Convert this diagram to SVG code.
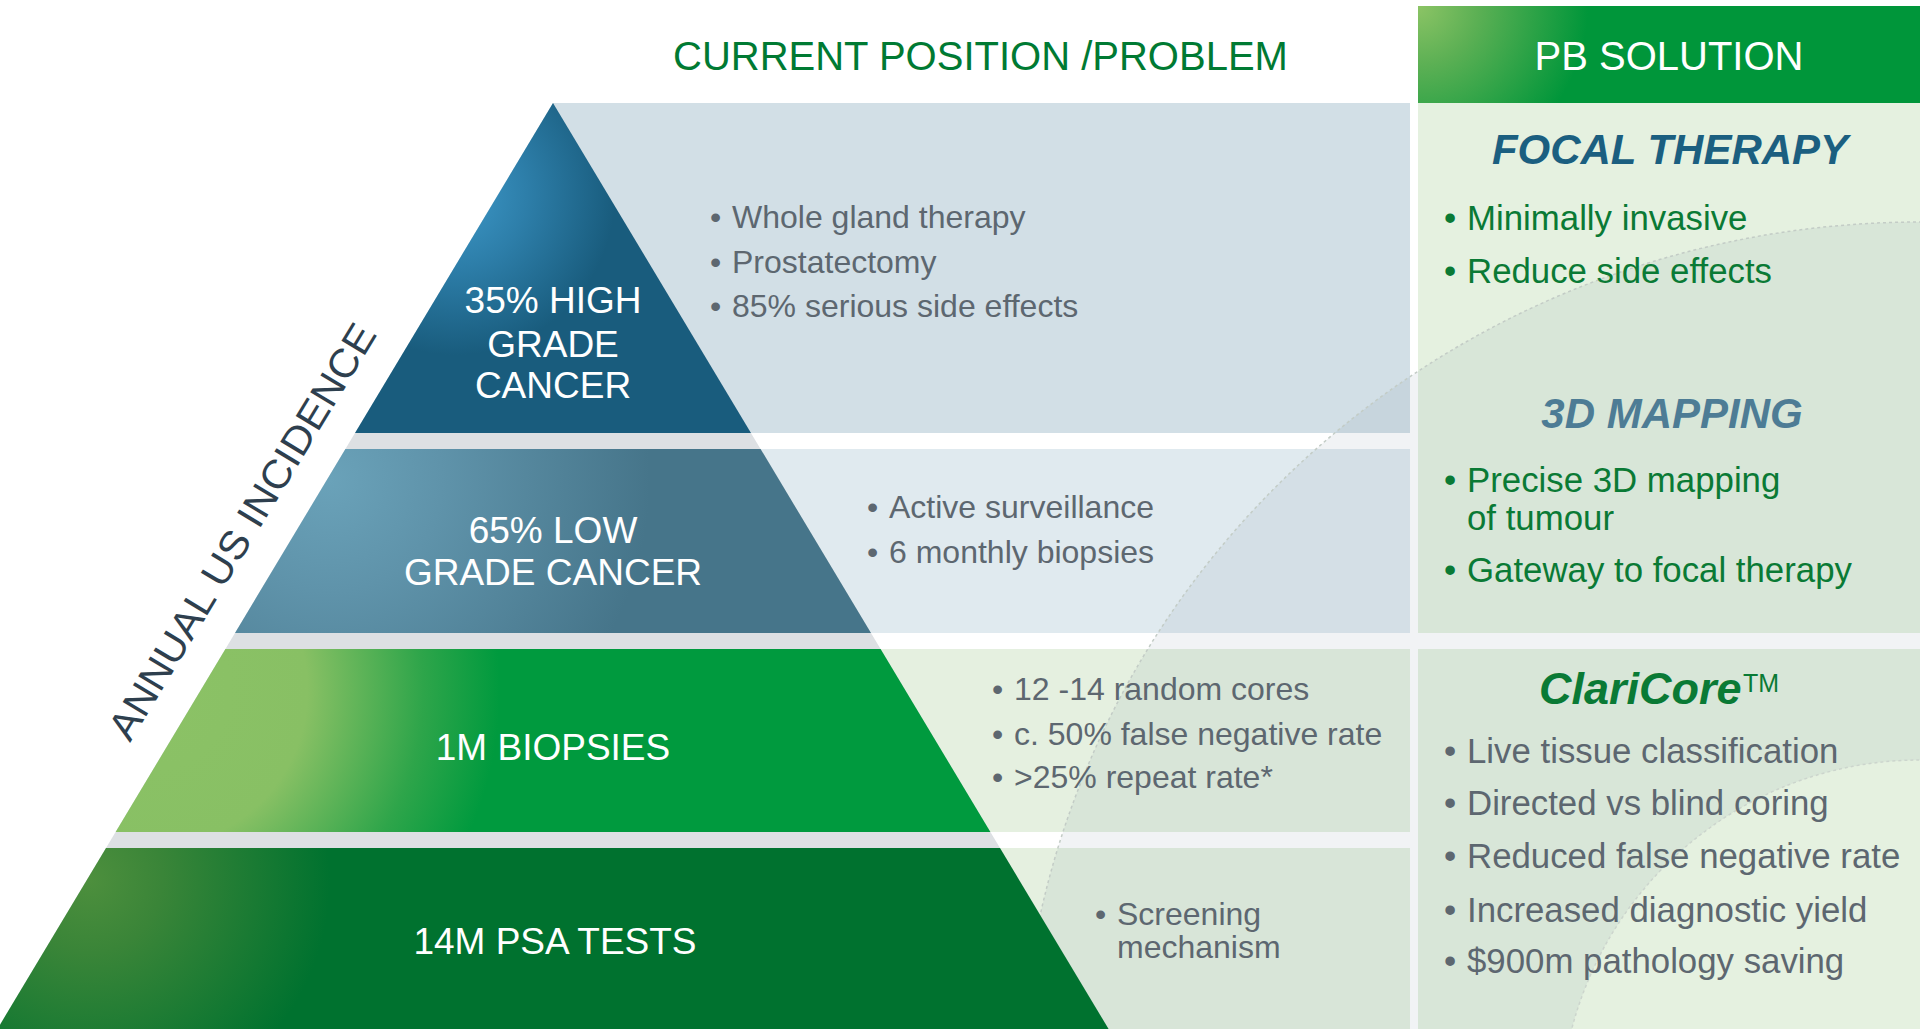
<svg xmlns="http://www.w3.org/2000/svg" width="1920" height="1029" viewBox="0 0 1920 1029">
<style>
text{font-family:"Liberation Sans",Arial,sans-serif}
.lbl{fill:#ffffff;font-size:37px;text-anchor:middle}
.prob{fill:#5d6770;font-size:32px}
.sol{fill:#0a7a35;font-size:34.8px}
.solg{fill:#5d6770;font-size:34.8px}
.head{font-size:42px;font-weight:bold;font-style:italic;text-anchor:middle}
</style>
<defs>
<radialGradient id="g1" gradientUnits="userSpaceOnUse" cx="455" cy="195" r="160">
<stop offset="0" stop-color="#3d98c8"/><stop offset="0.45" stop-color="#2d7ea9"/><stop offset="1" stop-color="#195c7d"/>
</radialGradient>
<radialGradient id="g2" gradientUnits="userSpaceOnUse" cx="330" cy="480" r="320">
<stop offset="0" stop-color="#6aa2b9"/><stop offset="0.35" stop-color="#5f93aa"/><stop offset="1" stop-color="#46758a"/>
</radialGradient>
<radialGradient id="g3" gradientUnits="userSpaceOnUse" cx="150" cy="690" r="350">
<stop offset="0" stop-color="#8cc266"/><stop offset="0.45" stop-color="#88c064"/><stop offset="0.78" stop-color="#2ea54a"/><stop offset="1" stop-color="#009a3e"/>
</radialGradient>
<radialGradient id="g4" gradientUnits="userSpaceOnUse" cx="90" cy="880" r="240">
<stop offset="0" stop-color="#4d8f3d"/><stop offset="0.3" stop-color="#3a8538"/><stop offset="1" stop-color="#00722f"/>
</radialGradient>
<radialGradient id="gh" gradientUnits="userSpaceOnUse" cx="1418" cy="6" r="170">
<stop offset="0" stop-color="#8cc465"/><stop offset="0.35" stop-color="#5cb054"/><stop offset="1" stop-color="#00963a"/>
</radialGradient>
</defs>
<rect width="1920" height="1029" fill="#ffffff"/>

<g id="problem-panels">
<rect x="553" y="103" width="857" height="330" fill="#d2dfe6"/>
<rect x="553" y="449" width="857" height="184" fill="#e0eaef"/>
<rect x="553" y="649" width="857" height="183" fill="#e5f0e0"/>
<rect x="553" y="848" width="857" height="181" fill="#e5f0e0"/>
</g>
<g id="solution-panels">
<rect x="1418" y="103" width="502" height="530" fill="#e5f1e0"/>
<rect x="1418" y="649" width="502" height="380" fill="#e5f1e0"/>
</g>

<g id="arc-overlay">
<path d="M1020 1100 A900 878 0 0 1 2820 1100 A900 878 0 0 1 1020 1100 Z M1560 1120 A360 360 0 0 0 2280 1120 A360 360 0 0 0 1560 1120 Z" fill="#3c5a6e" fill-opacity="0.07" fill-rule="evenodd"/>
<ellipse cx="1920" cy="1100" rx="900" ry="878" fill="none" stroke="#c3ccc6" stroke-width="1.5" stroke-dasharray="3 3"/>
<circle cx="1920" cy="1120" r="360" fill="none" stroke="#ccd5cd" stroke-width="1.5" stroke-dasharray="3 3"/>
</g>

<g id="pyramid">
<polygon points="553,103 1108.6,1029 -2.6,1029" fill="#dde0e3"/>
<g id="tier-high"><polygon points="553,103 751,433 355,433" fill="url(#g1)"/>
<text class="lbl" x="553" y="313">35% HIGH</text><text class="lbl" x="553" y="357">GRADE</text><text class="lbl" x="553" y="398">CANCER</text></g>
<g id="tier-low"><polygon points="345.4,449 760.6,449 871,633 235,633" fill="url(#g2)"/>
<text class="lbl" x="553" y="543">65% LOW</text><text class="lbl" x="553" y="585">GRADE CANCER</text></g>
<g id="tier-biopsies"><polygon points="225.4,649 880.6,649 990.4,832 115.6,832" fill="url(#g3)"/>
<text class="lbl" x="553" y="760">1M BIOPSIES</text></g>
<g id="tier-psa"><polygon points="106,848 1000,848 1108.6,1029 -2.6,1029" fill="url(#g4)"/>
<text class="lbl" x="555" y="954">14M PSA TESTS</text></g>
</g>

<g id="axis-label">
<text x="130" y="743" transform="rotate(-58.8 130 743)" font-size="40" fill="#2e3f4e" textLength="478" lengthAdjust="spacingAndGlyphs">ANNUAL US INCIDENCE</text>
</g>

<g id="title-problem">
<text x="673" y="70" font-size="40" fill="#007a33">CURRENT POSITION /PROBLEM</text>
</g>

<g id="header-solution">
<rect x="1418" y="6" width="502" height="97" fill="url(#gh)"/>
<text x="1669" y="70" font-size="40" fill="#ffffff" text-anchor="middle">PB SOLUTION</text>
</g>

<g id="problem-high">
<text class="prob" x="710" y="228">•</text><text class="prob" x="732" y="228">Whole gland therapy</text>
<text class="prob" x="710" y="273">•</text><text class="prob" x="732" y="273">Prostatectomy</text>
<text class="prob" x="710" y="317">•</text><text class="prob" x="732" y="317">85% serious side effects</text>
</g>
<g id="problem-low">
<text class="prob" x="867" y="518">•</text><text class="prob" x="889" y="518">Active surveillance</text>
<text class="prob" x="867" y="563">•</text><text class="prob" x="889" y="563">6 monthly biopsies</text>
</g>
<g id="problem-biopsies">
<text class="prob" x="992" y="700">•</text><text class="prob" x="1014" y="700">12 -14 random cores</text>
<text class="prob" x="992" y="745">•</text><text class="prob" x="1014" y="745">c. 50% false negative rate</text>
<text class="prob" x="992" y="788">•</text><text class="prob" x="1014" y="788">&gt;25% repeat rate*</text>
</g>
<g id="problem-psa">
<text class="prob" x="1095" y="925">•</text><text class="prob" x="1117" y="925">Screening</text>
<text class="prob" x="1117" y="958">mechanism</text>
</g>

<g id="solution-focal">
<text class="head" x="1670" y="164" fill="#1b5f80">FOCAL THERAPY</text>
<text class="sol" x="1444" y="230">•</text><text class="sol" x="1467" y="230">Minimally invasive</text>
<text class="sol" x="1444" y="283">•</text><text class="sol" x="1467" y="283">Reduce side effects</text>
</g>
<g id="solution-mapping">
<text class="head" x="1672" y="428" fill="#4d7c95">3D MAPPING</text>
<text class="sol" x="1444" y="492">•</text><text class="sol" x="1467" y="492">Precise 3D mapping</text>
<text class="sol" x="1467" y="530">of tumour</text>
<text class="sol" x="1444" y="582">•</text><text class="sol" x="1467" y="582">Gateway to focal therapy</text>
</g>
<g id="solution-claricore">
<text x="1539" y="704" font-size="45" font-weight="bold" font-style="italic" fill="#0a7a35">ClariCore</text>
<text x="1743" y="692" font-size="25" fill="#0a7a35">TM</text>
<text class="solg" x="1444" y="763">•</text><text class="solg" x="1467" y="763">Live tissue classification</text>
<text class="solg" x="1444" y="815">•</text><text class="solg" x="1467" y="815">Directed vs blind coring</text>
<text class="solg" x="1444" y="868">•</text><text class="solg" x="1467" y="868">Reduced false negative rate</text>
<text class="solg" x="1444" y="922">•</text><text class="solg" x="1467" y="922">Increased diagnostic yield</text>
<text class="solg" x="1444" y="973">•</text><text class="solg" x="1467" y="973">$900m pathology saving</text>
</g>
</svg>
